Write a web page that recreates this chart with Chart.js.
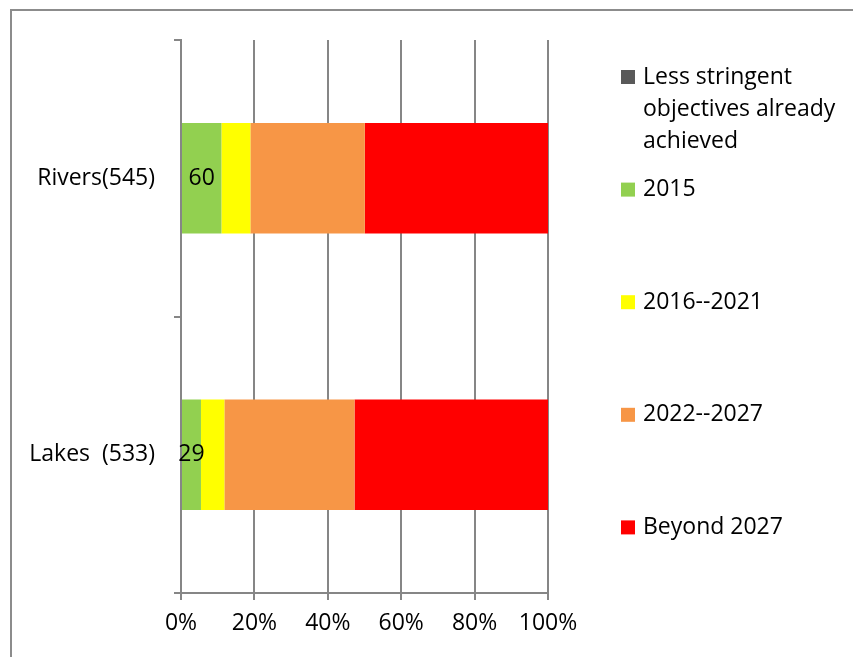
<!DOCTYPE html>
<html>
<head>
<meta charset="utf-8">
<script src="https://cdn.jsdelivr.net/npm/chart.js@4.4.1/dist/chart.umd.min.js"></script>
<style>
  html, body { margin: 0; padding: 0; background: #fff; }
  .graphics { width: 853px; height: 657px; position: relative; }
</style>
</head>
<body>
<div class="graphics">
  <canvas id="barChart" width="853" height="657"></canvas>
</div>
<script>
// water bodies and their totals
const categories = ["Rivers(545)", "Lakes  (533)"];
const totals = [545, 533];

// number of water bodies per deadline
const seriesNames = ["Less stringent objectives already achieved", "2015", "2016--2021", "2022--2027", "Beyond 2027"];
const lessStringent = [0, 0];
const by2015 = [60, 29];
const by2021 = [43, 34];
const by2027 = [170, 189];
const beyond2027 = [272, 281];

const xTicks = [0, 20, 40, 60, 80, 100];

const colors = ["#595959", "#92D050", "#FFFF00", "#F79646", "#FF0000"];
const FONT = "'Open Sans', sans-serif";
const SIZE = 23;

const counts = [lessStringent, by2015, by2021, by2027, beyond2027];
const share = (arr) => arr.map((v, i) => v / totals[i] * 100);

// outer frame (left and top edge only)
const framePlugin = {
  id: "frame",
  beforeDraw(chart) {
    const ctx = chart.ctx;
    ctx.save();
    ctx.strokeStyle = "#8c8c8c";
    ctx.lineWidth = 2;
    ctx.beginPath();
    ctx.moveTo(11, chart.height);
    ctx.lineTo(11, 10);
    ctx.lineTo(chart.width, 10);
    ctx.stroke();
    ctx.restore();
  }
};

// count label inside the 2015 segment
const countLabels = {
  id: "countLabels",
  afterDatasetsDraw(chart) {
    const ctx = chart.ctx;
    const meta = chart.getDatasetMeta(1);
    ctx.save();
    ctx.font = SIZE + "px " + FONT;
    ctx.fillStyle = "#000";
    ctx.textAlign = "center";
    ctx.textBaseline = "middle";
    meta.data.forEach((bar, i) => {
      const cx = (bar.x + bar.base) / 2;
      ctx.fillText(String(by2015[i]), cx, bar.y);
    });
    ctx.restore();
  }
};

// legend on the right, one entry per series, evenly spaced
const sideLegend = {
  id: "sideLegend",
  afterDraw(chart) {
    const ctx = chart.ctx;
    ctx.save();
    ctx.font = SIZE + "px " + FONT;
    ctx.textBaseline = "middle";
    ctx.textAlign = "left";
    const wrap = { 0: ["Less stringent", "objectives already", "achieved"] };
    chart.data.datasets.forEach((ds, i) => {
      const y = 77 + i * 112.6;
      ctx.fillStyle = ds.backgroundColor;
      ctx.fillRect(621, y - 7, 14, 14);
      ctx.fillStyle = "#000";
      const lines = wrap[i] || [ds.label];
      lines.forEach((t, k) => ctx.fillText(t, 643, y + k * 32));
    });
    ctx.restore();
  }
};

const ctxB = document.getElementById("barChart").getContext("2d");
const barChart = new Chart(ctxB, {
  type: "bar",
  data: {
    labels: categories,
    datasets: seriesNames.map((name, i) => ({
      label: name,
      data: share(counts[i]),
      backgroundColor: colors[i],
      borderWidth: 0,
      barPercentage: 0.4,
      categoryPercentage: 1.0
    }))
  },
  options: {
    indexAxis: "y",
    responsive: false,
    animation: false,
    layout: { padding: { left: 10, right: 305, top: 40, bottom: 0 } },
    plugins: {
      legend: { display: false },
      tooltip: { enabled: false }
    },
    scales: {
      x: {
        stacked: true,
        min: 0,
        max: 100,
        afterBuildTicks: (s) => { s.ticks = xTicks.map(v => ({ value: v })); },
        afterFit: (s) => { s.height = 64; },
        border: { color: "#868686", width: 2 },
        grid: { color: "#868686", lineWidth: 2, tickLength: 7 },
        ticks: {
          color: "#000",
          font: { family: FONT, size: SIZE },
          padding: 10,
          callback: (v) => v + "%"
        }
      },
      y: {
        stacked: true,
        afterFit: (s) => { s.width = 171; },
        border: { color: "#868686", width: 2 },
        grid: { color: "#868686", lineWidth: 2, tickLength: 7, drawOnChartArea: false, offset: true },
        ticks: {
          color: "#000",
          font: { family: FONT, size: SIZE },
          padding: 19
        }
      }
    }
  },
  plugins: [framePlugin, countLabels, sideLegend]
});
</script>
</body>
</html>
